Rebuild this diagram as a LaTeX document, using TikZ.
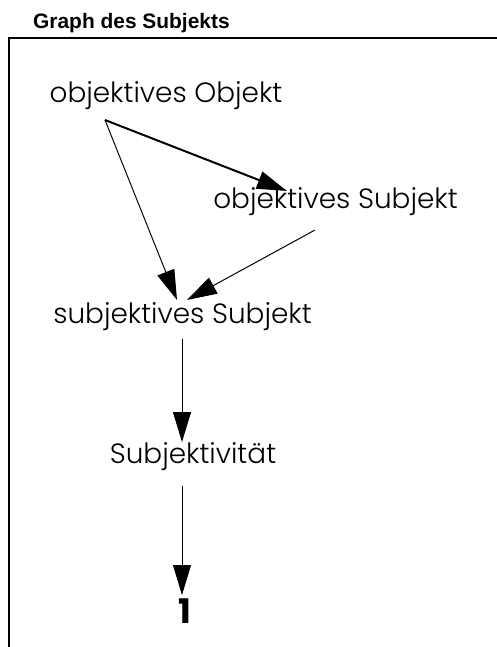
\documentclass[tikz,border=0pt]{standalone}
\usepackage{fontspec}
\setsansfont{Liberation Sans}
\newfontfamily\futfont{Poppins Light}
\newfontfamily\futbold{Poppins}
\usetikzlibrary{arrows.meta}

\begin{document}
\begin{tikzpicture}[x=1bp,y=-1bp,
  lbl/.style={inner sep=0pt,anchor=base,font=\futfont\fontsize{28}{34}\selectfont},
  arr/.style={-{Triangle[length=30bp,width=18bp]},line width=1bp}]
\useasboundingbox (0,0) rectangle (497,647);
\draw[line width=2bp,line join=miter] (9,660)--(9,38)--(510,38);
\node[anchor=base west,inner sep=0pt,font=\sffamily\bfseries\fontsize{21}{25}\selectfont] (title) at (33,29) {Graph des Subjekts};
% Knoten
\node[lbl] (oo) at (166,103) {objektives Objekt};
\node[lbl] (os) at (335.5,208) {objektives Subjekt};
\node[lbl] (ss) at (182.5,323) {subjektives Subjekt};
\node[lbl] (sv) at (193,463) {Subjektivität};
\node[lbl,font=\futbold\bfseries\fontsize{34}{40}\selectfont] (one) at (184.5,623) {1};
% Pfeile
\draw[arr,line width=2bp] ([shift={(-61,17)}]oo.base) -- ([shift={(-48.5,-17)}]os.base);
\draw[arr] ([shift={(-61,17)}]oo.base) -- ([shift={(-5.5,-23)}]ss.base);
\draw[arr] ([shift={(-20.5,22)}]os.base) -- ([shift={(4.5,-23)}]ss.base);
\draw[arr] ([shift={(-0.5,16)}]ss.base) -- ([shift={(-11,-21)}]sv.base);
\draw[arr] ([shift={(-11,23)}]sv.base) -- ([shift={(-2.5,-28)}]one.base);
\end{tikzpicture}
\end{document}
